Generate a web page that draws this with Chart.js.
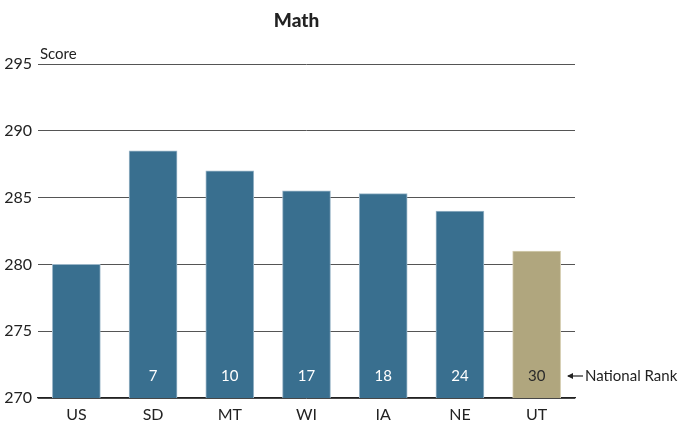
<!DOCTYPE html>
<html>
<head>
<meta charset="utf-8">
<script src="https://cdn.jsdelivr.net/npm/chart.js@4/dist/chart.umd.min.js"></script>
<style>
html,body{margin:0;padding:0;background:#fff;}
#wrap{width:679px;height:424px;position:relative;}
</style>
</head>
<body>
<div id="wrap"><canvas id="c" width="679" height="424"></canvas></div>
<script>
const categories = ["US", "SD", "MT", "WI", "IA", "NE", "UT"];
const scores = [280, 288.5, 287, 285.5, 285.3, 284, 281];
const ranks = ["", "7", "10", "17", "18", "24", "30"];
const yTicks = [270, 275, 280, 285, 290, 295];
const chartTitle = "Math";
const yLabel = "Score";
const rankLabel = "National Rank";

const BLUE = "#396f8f";
const TAN = "#b0a67e";
const FONT = "Lato, 'Open Sans', sans-serif";

const barColors = categories.map(c => c === "UT" ? TAN : BLUE);
const barBorders = categories.map(c => c === "UT" ? "#d6cfb3" : "#9bb6c8");

const annot = {
  id: "annot",
  afterDatasetsDraw(chart) {
    const ctx = chart.ctx;
    const xs = chart.scales.x, ys = chart.scales.y;
    const ca = chart.chartArea;
    ctx.save();
    // title
    ctx.font = "900 19px " + FONT;
    ctx.fillStyle = "#222";
    ctx.textAlign = "center";
    ctx.textBaseline = "middle";
    ctx.fillText(chartTitle, (ca.left + ca.right) / 2 - 10, 21);
    // y label
    ctx.font = "15px " + FONT;
    ctx.textAlign = "left";
    ctx.textBaseline = "alphabetic";
    ctx.fillText(yLabel, ca.left + 2, ys.getPixelForValue(295) - 5);
    // ranks
    const ry = ys.getPixelForValue(270) - 22;
    ctx.font = "15px " + FONT;
    ctx.textAlign = "center";
    ctx.textBaseline = "middle";
    ranks.forEach((r, i) => {
      if (!r) return;
      ctx.fillStyle = categories[i] === "UT" ? "#2a2a2a" : "#ffffff";
      ctx.fillText(r, xs.getPixelForValue(i), ry);
    });
    // arrow + label
    const ax = ca.right - 7;
    ctx.strokeStyle = "#222";
    ctx.fillStyle = "#222";
    ctx.lineWidth = 1.2;
    ctx.beginPath();
    ctx.moveTo(ax, ry);
    ctx.lineTo(ax + 15, ry);
    ctx.stroke();
    ctx.beginPath();
    ctx.moveTo(ax - 1, ry);
    ctx.lineTo(ax + 5, ry - 3);
    ctx.lineTo(ax + 5, ry + 3);
    ctx.closePath();
    ctx.fill();
    ctx.textAlign = "left";
    ctx.fillText(rankLabel, ax + 17, ry);
    ctx.restore();
  }
};

new Chart(document.getElementById("c"), {
  type: "bar",
  data: {
    labels: categories,
    datasets: [{
      data: scores,
      backgroundColor: barColors,
      borderColor: barBorders,
      borderWidth: {left: 1, right: 1, top: 1, bottom: 0},
      barThickness: 48,
      borderSkipped: false
    }]
  },
  options: {
    responsive: false,
    animation: false,
    devicePixelRatio: 1,
    layout: {padding: {top: 64, right: 104, left: 0, bottom: 0}},
    plugins: {legend: {display: false}, title: {display: false}, tooltip: {enabled: false}},
    scales: {
      x: {
        grid: {display: false, drawTicks: false},
        border: {display: true, color: "#222", width: 1.2},
        ticks: {color: "#222", font: {family: FONT, size: 16}, padding: 7},
        afterFit(s) { s.height = 26; }
      },
      y: {
        min: 270, max: 295,
        afterBuildTicks(s) { s.ticks = yTicks.map(v => ({value: v})); },
        grid: {color: "#555", lineWidth: 1, drawTicks: false},
        border: {display: false},
        ticks: {color: "#222", font: {family: FONT, size: 16}, padding: 6},
        afterFit(s) { s.width = 38; }
      }
    }
  },
  plugins: [annot]
});
</script>
</body>
</html>
